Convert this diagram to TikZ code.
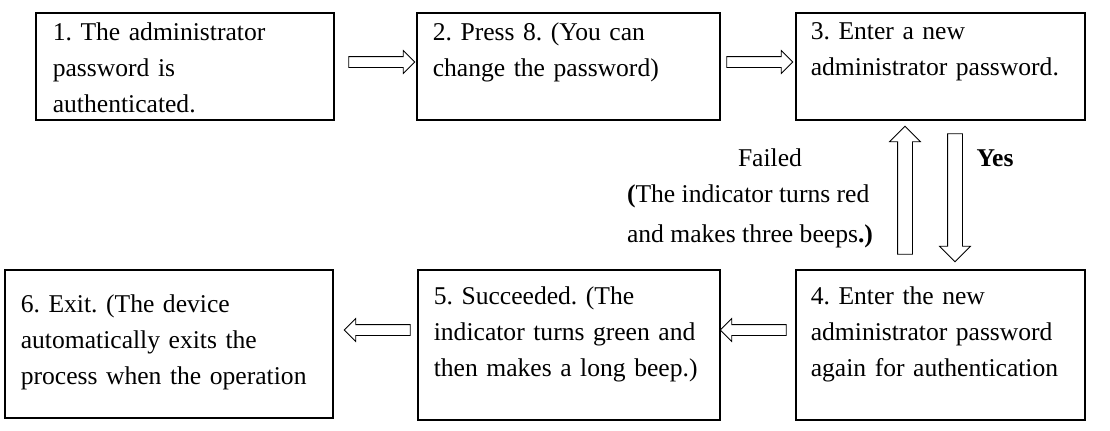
\documentclass[tikz,border=0pt]{standalone}
\usepackage{fontspec}
\setmainfont{Liberation Serif}
\usetikzlibrary{shapes.arrows}
\tikzset{
  box/.style={rectangle,align=left,inner sep=0pt,font=\fontsize{12.8}{18}\selectfont\frenchspacing},
  blk/.style={draw,single arrow,inner sep=2.5pt,single arrow head extend=3pt,minimum height=33pt},
  vblk/.style={draw,single arrow,inner sep=3.5pt,single arrow head extend=4pt,minimum height=64pt},
  lbl/.style={font=\fontsize{12.8}{20}\selectfont\frenchspacing,align=left}
}
\begin{document}
\begin{tikzpicture}[x=0.5pt,y=-0.5pt]
  \useasboundingbox (0,0) rectangle (1110,430);
  \draw[thick] (36,13) rectangle (334,120) node[box,anchor=north west,text width=140pt] (b1) at (52,22) {1. The administrator\\password is\\authenticated.};
  \draw[thick] (417,13) rectangle (720,120) node[box,anchor=north west,text width=145pt] (b2) at (432,22) {2. Press 8. (You can\\change the password)};
  \draw[thick] (796,13) rectangle (1085,120) node[box,anchor=north west,text width=140pt] (b3) at (810,22) {3. Enter a new\\administrator password.};
  \draw[thick] (796,270) rectangle (1085,420) node[box,anchor=north west,text width=140pt] (b4) at (810,286) {4. Enter the new\\administrator password\\again for authentication};
  \draw[thick] (418,270) rectangle (720,420) node[box,anchor=north west,text width=145pt] (b5) at (433,286) {5. Succeeded. (The\\indicator turns green and\\then makes a long beep.)};
  \draw[thick] (5,270) rectangle (333,418) node[box,anchor=north west,text width=160pt] (b6) at (20,294) {6. Exit. (The device\\automatically exits the\\process when the operation};
  % block arrows
  \node[blk] (a12) at (379,62) {};
  \node[blk] (a23) at (757,62) {};
  \node[vblk,rotate=90] (aup) at (905,194) {};
  \node[vblk,rotate=-90] (adn) at (955,194) {};
  \node[blk,rotate=180] (a45) at (756,330) {};
  \node[blk,rotate=180] (a56) at (380,330) {};
  % labels
  \node[lbl] (fail) at (770,158) {Failed};
  \node[lbl,anchor=east] (why) at (880,216) {\textbf{(}The indicator turns red\\and makes three beeps\textbf{.)}};
  \node[lbl,font=\fontsize{12.8}{20}\selectfont\bfseries] (yes) at (995,158) {Yes};
\end{tikzpicture}
\end{document}
